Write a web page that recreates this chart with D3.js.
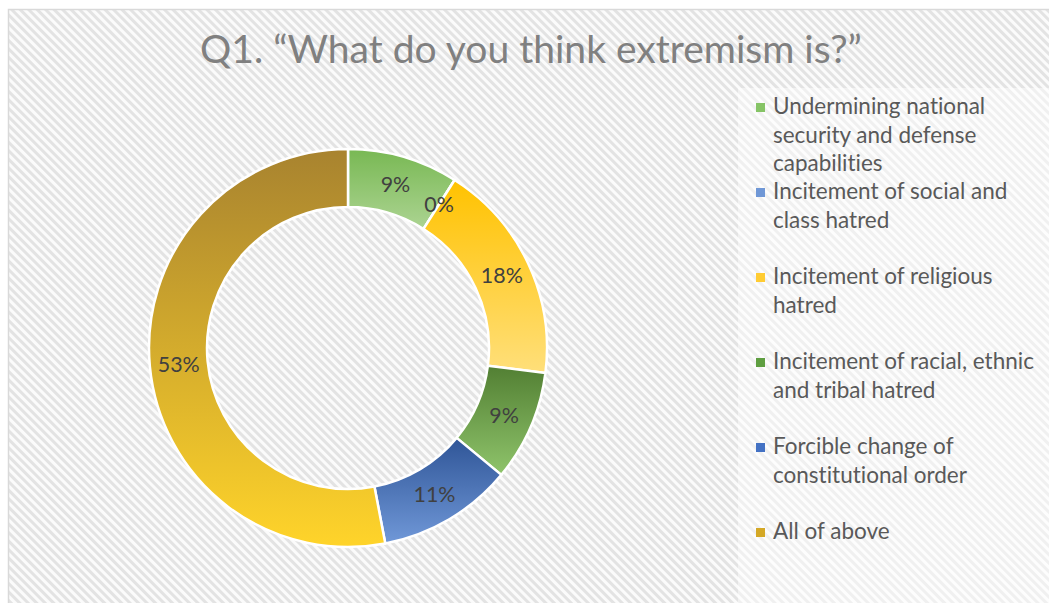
<!DOCTYPE html>
<html>
<head>
<meta charset="utf-8">
<script src="https://cdn.jsdelivr.net/npm/d3@7"></script>
<style>
  html, body { margin: 0; padding: 0; background: #ffffff; overflow: hidden; }
  text, tspan {
    font-family: Lato, "Open Sans", sans-serif;
    font-variant-ligatures: none;
    font-feature-settings: "liga" 0, "clig" 0, "dlig" 0, "calt" 0;
  }
</style>
</head>
<body>
<svg id="chart" width="1049" height="603"></svg>
<script>
// Survey answers, share of respondents (%)
const title = "Q1. “What do you think extremism is?”";
const categories = [
  "Undermining national security and defense capabilities",
  "Incitement of social and class hatred",
  "Incitement of religious hatred",
  "Incitement of racial, ethnic and tribal hatred",
  "Forcible change of constitutional order",
  "All of above"
];
const values = [9, 0, 18, 9, 11, 53];
const labels = ["9%", "0%", "18%", "9%", "11%", "53%"];

// Slice gradients (top colour, bottom colour) and legend swatches
const gradTop    = ["#78b853", "#4f78c0", "#ffc200", "#527f33", "#2f5597", "#a8832f"];
const gradBottom = ["#acd492", "#86a6dc", "#ffdf7a", "#8fc46b", "#7098d8", "#ffd42a"];
const swatches   = ["#86c466", "#6f97d6", "#ffcc33", "#5e9e40", "#4472c4", "#d4a826"];

const svg = d3.select("#chart");
const defs = svg.append("defs");

// diagonal hatched fill of the chart area
function stripes(id, bg, fg) {
  const p = defs.append("pattern")
    .attr("id", id)
    .attr("patternUnits", "userSpaceOnUse")
    .attr("width", 6).attr("height", 6)
    .attr("patternTransform", "rotate(-45)");
  p.append("rect").attr("width", 6).attr("height", 6).attr("fill", bg);
  p.append("rect").attr("width", 3).attr("height", 6).attr("fill", fg);
}
stripes("hatch", "#fbfbfb", "#e3e3e3");
stripes("hatchLight", "#fdfdfd", "#f0f0f0");

svg.append("rect")
  .attr("x", 8.5).attr("y", 9.5)
  .attr("width", 1070).attr("height", 620)
  .attr("fill", "url(#hatch)")
  .attr("stroke", "#d9d9d9").attr("stroke-width", 1.5);

// legend box is lighter than the plot area
svg.append("rect")
  .attr("x", 738).attr("y", 88)
  .attr("width", 320).attr("height", 530)
  .attr("fill", "url(#hatchLight)");

// title, sized to span its measured width
const titleText = svg.append("text")
  .attr("x", 531).attr("y", 63)
  .attr("text-anchor", "middle")
  .attr("fill", "#808080")
  .attr("font-size", 30)
  .text(title);
const tw = titleText.node().getComputedTextLength();
titleText.attr("font-size", 30 * 662 / tw);

// doughnut
const cx = 348, cy = 348;
const pie = d3.pie().sort(null).value(d => d);
const arcs = pie(values);
const arc = d3.arc().innerRadius(141).outerRadius(199);

values.forEach((v, i) => {
  const g = defs.append("linearGradient")
    .attr("id", "grad" + i)
    .attr("x1", 0).attr("y1", 0).attr("x2", 0).attr("y2", 1);
  g.append("stop").attr("offset", "0%").attr("stop-color", gradTop[i]);
  g.append("stop").attr("offset", "100%").attr("stop-color", gradBottom[i]);
});

const ring = svg.append("g").attr("transform", `translate(${cx},${cy})`);
ring.selectAll("path.slice")
  .data(arcs)
  .join("path")
  .attr("class", "slice")
  .attr("d", arc)
  .attr("fill", (d, i) => `url(#grad${i})`)
  .attr("stroke", "#ffffff")
  .attr("stroke-width", 2.5)
  .attr("stroke-linejoin", "round");

// data labels, sized so "18%" is about 42px wide
const lp = ring.append("text").attr("font-size", 20).text("18%");
const labelSize = 20 * 42 / lp.node().getComputedTextLength();
lp.remove();

ring.selectAll("text.lbl")
  .data(arcs)
  .join("text")
  .attr("class", "lbl")
  .attr("transform", d => `translate(${arc.centroid(d)})`)
  .attr("text-anchor", "middle")
  .attr("dy", "0.36em")
  .attr("font-size", labelSize)
  .attr("fill", "#404040")
  .text((d, i) => labels[i]);

// legend
const legend = svg.append("g");
const probe = legend.append("text").attr("font-size", 20).text("Incitement of racial, ethnic");
const legendSize = 20 * 261 / probe.node().getComputedTextLength();
probe.remove();

function measure(str) {
  const t = legend.append("text").attr("font-size", legendSize).text(str);
  const w = t.node().getComputedTextLength();
  t.remove();
  return w;
}
function wrap(str, maxW) {
  const words = str.split(" ");
  const lines = [];
  let cur = "";
  words.forEach(w => {
    const test = cur ? cur + " " + w : w;
    if (cur && measure(test) > maxW) { lines.push(cur); cur = w; }
    else cur = test;
  });
  if (cur) lines.push(cur);
  return lines;
}

const legendY = d3.scalePoint().domain(d3.range(categories.length)).range([114, 539]);
categories.forEach((c, i) => {
  const y0 = legendY(i);
  legend.append("rect")
    .attr("x", 756).attr("y", y0 - 11)
    .attr("width", 9).attr("height", 9)
    .attr("fill", swatches[i]);
  const t = legend.append("text")
    .attr("x", 773).attr("y", y0)
    .attr("font-size", legendSize)
    .attr("fill", "#595959");
  wrap(c, 265).forEach((line, k) => {
    t.append("tspan").attr("x", 773).attr("y", y0 + k * 28.5).text(line);
  });
});
</script>
</body>
</html>
